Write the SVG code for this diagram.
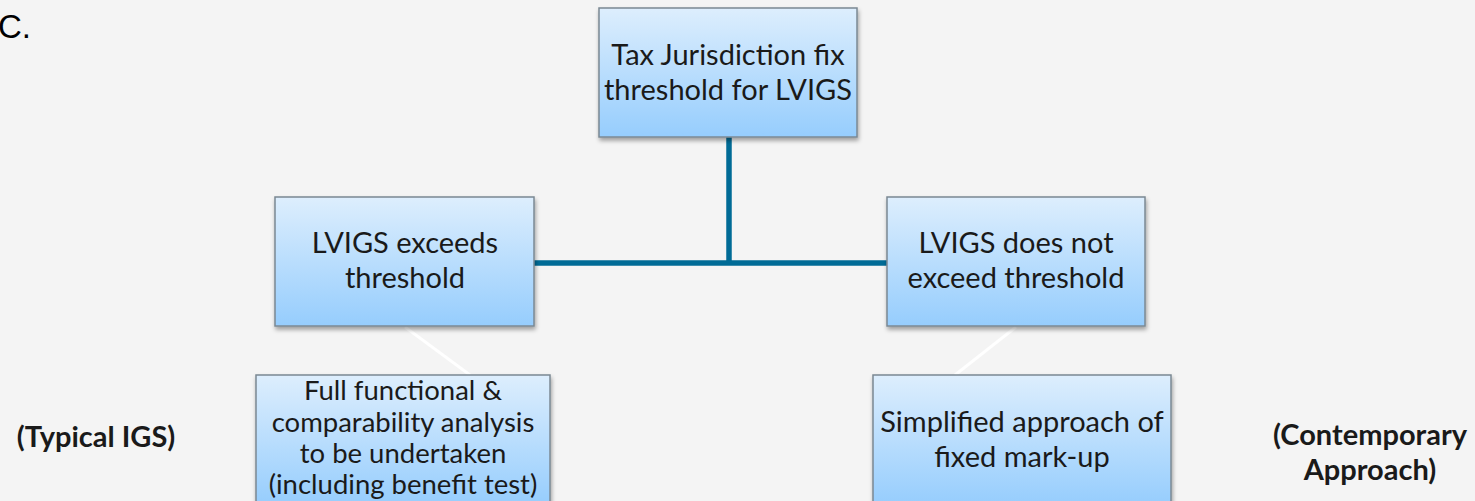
<svg xmlns="http://www.w3.org/2000/svg" width="1475" height="501" viewBox="0 0 1475 501">
<defs>
<linearGradient id="g" x1="0" y1="0" x2="0" y2="1">
<stop offset="0" stop-color="#ddeefd"/>
<stop offset="1" stop-color="#96cdfd"/>
</linearGradient>
<linearGradient id="gb" gradientUnits="userSpaceOnUse" x1="0" y1="375" x2="0" y2="505">
<stop offset="0" stop-color="#ddeefd"/>
<stop offset="1" stop-color="#96cdfd"/>
</linearGradient>
<filter id="sh" x="-10%" y="-10%" width="125%" height="130%">
<feDropShadow dx="1" dy="3" stdDeviation="2" flood-color="#000" flood-opacity="0.35"/>
</filter>
<style>
.box{fill:url(#g);stroke:#7b8893;stroke-width:1.5;filter:url(#sh)}
.boxb{fill:url(#gb);stroke:#7b8893;stroke-width:1.5;filter:url(#sh)}
.t{font-family:Lato,"Liberation Sans",sans-serif;font-size:29px;fill:#1a1a1a;text-anchor:middle}
.ts{font-family:Lato,"Liberation Sans",sans-serif;font-size:27.5px;fill:#1a1a1a;text-anchor:middle}
.lb{font-family:Lato,"Liberation Sans",sans-serif;font-size:29px;font-weight:bold;fill:#1a1a1a;text-anchor:middle}
.c{stroke:#006b96;stroke-width:5.5;fill:none}
.w{stroke:#ffffff;stroke-width:3;fill:none}
</style>
</defs>
<rect width="1475" height="501" fill="#f4f4f4"/>
<text x="-2" y="38" font-family="'Liberation Sans',Arial,sans-serif" font-size="33" fill="#000">C.</text>
<g id="connectors">
<path class="c" d="M729,137 V263"/>
<path class="c" d="M534,263 H887"/>
<path class="w" d="M405,327 L470,375"/>
<path class="w" d="M1016,327 L955,375"/>
</g>
<g id="n-top">
<rect class="box" x="599" y="8" width="258" height="129"/>
<text class="t" x="728" y="65">Tax Jurisdiction fix</text>
<text class="t" x="728" y="100">threshold for LVIGS</text>
</g>
<g id="n-left">
<rect class="box" x="275" y="197" width="259" height="129"/>
<text class="t" x="405" y="253">LVIGS exceeds</text>
<text class="t" x="405" y="288">threshold</text>
</g>
<g id="n-right">
<rect class="box" x="887" y="197" width="258" height="129"/>
<text class="t" x="1016" y="253">LVIGS does not</text>
<text class="t" x="1016" y="288">exceed threshold</text>
</g>
<g id="n-bl">
<rect class="boxb" x="256" y="375" width="294" height="140"/>
<text class="ts" x="403" y="400">Full functional &amp;</text>
<text class="ts" x="403" y="432">comparability analysis</text>
<text class="ts" x="403" y="463">to be undertaken</text>
<text class="ts" x="403" y="494">(including benefit test)</text>
</g>
<g id="n-br">
<rect class="boxb" x="873" y="375" width="298" height="140"/>
<text class="t" x="1022" y="432">Simplified approach of</text>
<text class="t" x="1022" y="467">fixed mark-up</text>
</g>
<g id="labels">
<text class="lb" x="96" y="447">(Typical IGS)</text>
<text class="lb" x="1370" y="445">(Contemporary</text>
<text class="lb" x="1370" y="480">Approach)</text>
</g>
</svg>
